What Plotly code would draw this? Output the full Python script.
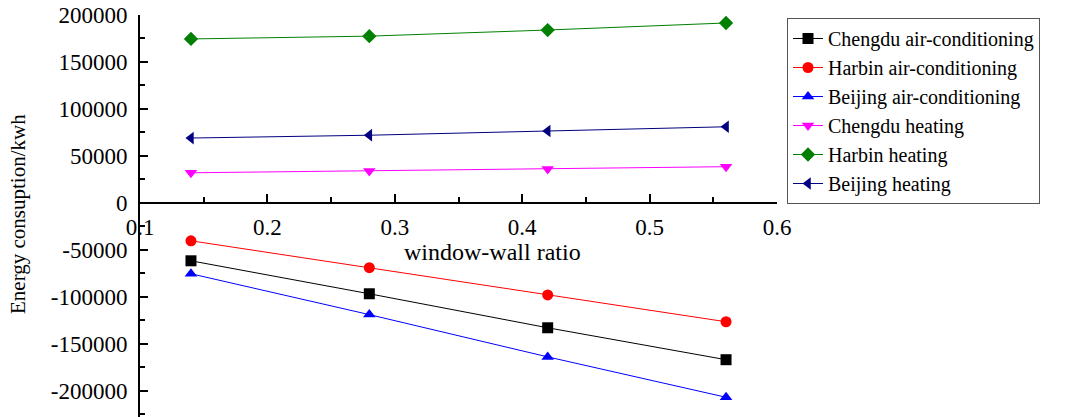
import plotly.graph_objects as go

wwr = [0.14, 0.28, 0.42, 0.56]
chengdu_ac = [-61700, -96800, -133000, -167000]
harbin_ac = [-40400, -69000, -98000, -126600]
beijing_ac = [-75500, -119000, -164000, -207000]
chengdu_heat = [32000, 34000, 36000, 38500]
harbin_heat = [174500, 177500, 184000, 191500]
beijing_heat = [69000, 72000, 76500, 81000]

series = [
    ("Chengdu air-conditioning", chengdu_ac, "#000000", "square"),
    ("Harbin air-conditioning", harbin_ac, "#FF0000", "circle"),
    ("Beijing air-conditioning", beijing_ac, "#0000FF", "triangle-up"),
    ("Chengdu heating", chengdu_heat, "#FF00FF", "triangle-down"),
    ("Harbin heating", harbin_heat, "#008000", "diamond"),
    ("Beijing heating", beijing_heat, "#000080", "triangle-left"),
]

FONT = "Liberation Serif, Times New Roman, serif"

fig = go.Figure()
for name, vals, col, sym in series:
    fig.add_trace(go.Scatter(
        x=wwr, y=vals, name=name, mode="lines+markers",
        line=dict(color=col, width=1),
        marker=dict(symbol=sym, size=11, color=col),
    ))

ymin, ymax = -228000, 200000
zero_pos = (0 - ymin) / (ymax - ymin)

fig.update_layout(
    width=1076, height=417,
    margin=dict(l=140, r=299, t=15, b=0),
    plot_bgcolor="white", paper_bgcolor="white",
    font=dict(family=FONT, size=20, color="black"),
    showlegend=True,
    legend=dict(
        x=1.0157, y=(417 - 18) / 402, xanchor="left", yanchor="top",
        bordercolor="#555555", borderwidth=1,
        font=dict(family=FONT, size=20, color="black"),
        tracegroupgap=0,
    ),
    xaxis=dict(
        range=[0.1, 0.6], tickvals=[0.1, 0.2, 0.3, 0.4, 0.5, 0.6],
        ticktext=["0.1", "0.2", "0.3", "0.4", "0.5", "0.6"],
        anchor="free", position=zero_pos,
        showline=True, linecolor="black", linewidth=2,
        ticks="inside", ticklen=8, tickwidth=2, tickcolor="black",
        minor=dict(tickvals=[0.15, 0.25, 0.35, 0.45, 0.55], ticks="inside",
                   ticklen=5, tickwidth=1.5, tickcolor="black", showgrid=False),
        showgrid=False, zeroline=False, ticklabelstandoff=4,
        tickfont=dict(family=FONT, size=23),
    ),
    yaxis=dict(
        range=[ymin, ymax],
        tickvals=[-200000, -150000, -100000, -50000, 0, 50000, 100000, 150000, 200000],
        ticktext=["-200000", "-150000", "-100000", "-50000", "0", "50000", "100000", "150000", "200000"],
        showline=True, linecolor="black", linewidth=2,
        ticks="inside", ticklen=8, tickwidth=2, tickcolor="black",
        minor=dict(tickvals=[-225000, -175000, -125000, -75000, -25000, 25000, 75000, 125000, 175000],
                   ticks="inside", ticklen=5, tickwidth=1.5, tickcolor="black", showgrid=False),
        showgrid=False, zeroline=False, ticklabelstandoff=6,
        tickfont=dict(family=FONT, size=23),
    ),
    annotations=[
        dict(text="window-wall ratio", x=(492 - 140) / 637, y=(417 - 252) / 402,
             xref="paper", yref="paper",
             showarrow=False, font=dict(family=FONT, size=24), xanchor="center", yanchor="middle"),
        dict(text="Energy consuption/kwh", x=(18 - 140) / 637, y=(417 - 214) / 402,
             xref="paper", yref="paper",
             showarrow=False, textangle=-90, font=dict(family=FONT, size=21),
             xanchor="center", yanchor="middle"),
    ],
)

fig.write_html("out.html")
